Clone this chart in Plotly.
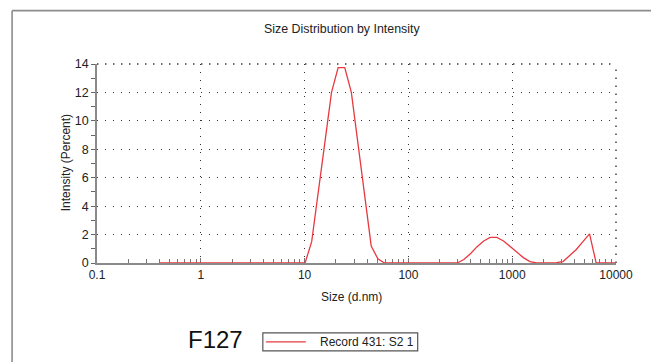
import plotly.graph_objects as go

# ---- data ----
sizes_nm = [0.4, 0.4632, 0.5365, 0.6213, 0.7195, 0.8332, 0.9649, 1.117, 1.294, 1.499,
            1.736, 2.010, 2.328, 2.696, 3.122, 3.615, 4.187, 4.849, 5.615, 6.503,
            7.531, 8.721, 10.10, 11.70, 13.54, 15.69, 18.17, 21.04, 24.36, 28.21,
            32.67, 37.84, 43.82, 50.75, 58.77, 68.06, 78.82, 91.28, 105.7, 122.4,
            141.8, 164.2, 190.1, 220.2, 255.0, 295.3, 342.0, 396.1, 458.7, 531.2,
            615.1, 712.4, 825.0, 955.4, 1106, 1281, 1484, 1718, 1990, 2305,
            2669, 3091, 3580, 4145, 4801, 5560, 6439, 7456, 8635, 10000]
intensity_pct = [0, 0, 0, 0, 0, 0, 0, 0, 0, 0,
                 0, 0, 0, 0, 0, 0, 0, 0, 0, 0,
                 0, 0, 0, 1.5, 5.0, 8.6, 12.0, 13.75, 13.75, 12.0,
                 8.4, 4.8, 1.2, 0.3, 0, 0, 0, 0, 0, 0,
                 0, 0, 0, 0, 0, 0, 0.25, 0.65, 1.15, 1.55,
                 1.8, 1.8, 1.55, 1.15, 0.75, 0.38, 0.1, 0, 0, 0,
                 0.02, 0.1, 0.5, 0.95, 1.5, 2.05, 0, 0, 0, 0]
x_tickvals = [0.1, 1, 10, 100, 1000, 10000]
x_ticktext = ["0.1", "1", "10", "100", "1000", "10000"]
y_tickvals = [0, 2, 4, 6, 8, 10, 12, 14]
series_name = "Record 431: S2 1"
sample_label = "F127"

# ---- layout geometry (pixels in the 659x362 view; page body has an 8px margin) ----
OFF = 8
W, H = 659 - OFF, 362 - OFF
L, R, T, B = 97 - OFF, 616.5 - OFF, 63.5 - OFF, 263 - OFF
PW, PH = R - L, B - T

def px(x):
    return (x - OFF - L) / PW

def py(y):
    return (B - (y - OFF)) / PH

RED = "#e8393f"
FONT = "Liberation Sans, Arial, sans-serif"
GRID = "#333"
GRID_DASH = "1.4px,6.6px"

fig = go.Figure()
fig.add_trace(go.Scatter(x=sizes_nm, y=intensity_pct, mode="lines",
                         line=dict(color=RED, width=1.3), name=series_name,
                         showlegend=False))

minor_x = []
for d in [0.1, 1, 10, 100, 1000]:
    minor_x += [d * k for k in range(2, 10)]

fig.update_layout(
    width=W, height=H,
    margin=dict(l=L, r=W - R, t=T, b=H - B, pad=0),
    paper_bgcolor="white", plot_bgcolor="white",
    font=dict(family=FONT, size=12, color="#222"),
    xaxis=dict(type="log", range=[-1, 4], tickvals=x_tickvals, ticktext=x_ticktext,
               showline=True, linecolor="#8a8a8a", linewidth=2,
               ticks="inside", ticklen=5, tickcolor="#777", tickwidth=1,
               showgrid=True, gridcolor=GRID, gridwidth=1.4, griddash=GRID_DASH,
               minor=dict(tickvals=minor_x, ticks="inside", ticklen=4, tickcolor="#777",
                          showgrid=False),
               zeroline=False, layer="below traces",
               tickfont=dict(size=12, color="#222")),
    yaxis=dict(range=[0, 14], tickvals=y_tickvals,
               showline=True, linecolor="#8a8a8a", linewidth=1.5,
               ticks="outside", ticklen=4, tickcolor="#666", tickwidth=1,
               showgrid=True, gridcolor=GRID, gridwidth=1.4, griddash=GRID_DASH,
               minor=dict(dtick=1, ticks="outside", ticklen=4, tickcolor="#666",
                          showgrid=False),
               zeroline=False, layer="below traces",
               tickfont=dict(size=12.5, color="#222")),
    showlegend=False,
)

annotations = [
    dict(text="Size Distribution by Intensity", x=px(342), y=py(28), xref="paper", yref="paper",
         showarrow=False, xanchor="center", yanchor="middle", font=dict(size=12.4, color="#222")),
    dict(text="Intensity (Percent)", x=px(66), y=py(163), xref="paper", yref="paper",
         showarrow=False, xanchor="center", yanchor="middle", textangle=-90,
         font=dict(size=12, color="#222")),
    dict(text="Size (d.nm)", x=px(352), y=py(297), xref="paper", yref="paper",
         showarrow=False, xanchor="center", yanchor="middle", font=dict(size=12, color="#222")),
    dict(text=sample_label, x=px(216), y=py(340), xref="paper", yref="paper",
         showarrow=False, xanchor="center", yanchor="middle", font=dict(size=24, color="#111")),
    dict(text=series_name, x=px(416), y=py(342.5), xref="paper", yref="paper",
         showarrow=False, xanchor="right", yanchor="middle", font=dict(size=12, color="#222")),
]
fig.update_layout(annotations=annotations)

shapes = [
    # dotted grid lines on the top and right edges of the plot area
    dict(type="line", xref="paper", yref="paper", x0=0, x1=1, y0=1, y1=1, layer="below",
         line=dict(color=GRID, width=1.4, dash=GRID_DASH)),
    dict(type="line", xref="paper", yref="paper", x0=1, x1=1, y0=0, y1=1, layer="below",
         line=dict(color=GRID, width=1.4, dash=GRID_DASH)),
    # outer frame (left and top edges visible)
    dict(type="line", xref="paper", yref="paper", x0=px(12), x1=px(12), y0=py(10), y1=py(370),
         line=dict(color="#8c8c8c", width=1.6)),
    dict(type="line", xref="paper", yref="paper", x0=px(12), x1=px(670), y0=py(10), y1=py(10),
         line=dict(color="#8c8c8c", width=1.6)),
    # legend box
    dict(type="rect", xref="paper", yref="paper", x0=px(263), x1=px(418), y0=py(351), y1=py(333),
         line=dict(color="#555", width=1.2), fillcolor="white"),
    dict(type="line", xref="paper", yref="paper", x0=px(266), x1=px(306), y0=py(342), y1=py(342),
         line=dict(color=RED, width=1.3)),
]
fig.update_layout(shapes=shapes)

fig.write_html("out.html")
